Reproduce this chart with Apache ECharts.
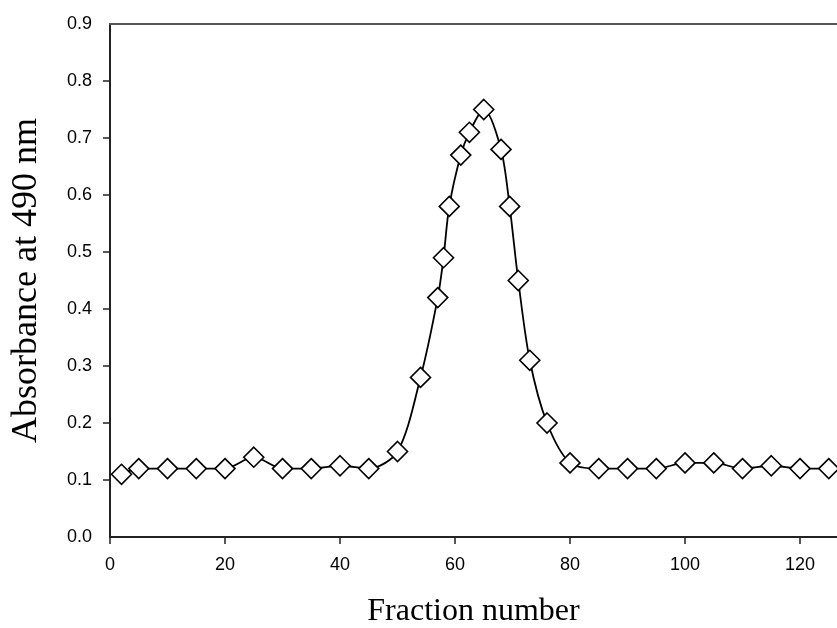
<!DOCTYPE html>
<html>
<head>
<meta charset="utf-8">
<script src="https://cdn.jsdelivr.net/npm/echarts@6/dist/echarts.min.js"></script>
<style>html,body{margin:0;padding:0;background:#fff;overflow:hidden;}#c{width:837px;height:628px;}</style>
</head>
<body>
<div id="c"></div>
<script>
const fractions = [2, 5, 10, 15, 20, 25, 30, 35, 40, 45, 50, 54, 57, 58, 59, 61, 62.5, 65, 68, 69.5, 71, 73, 76, 80, 85, 90, 95, 100, 105, 110, 115, 120, 125];
const absorbance = [0.11, 0.12, 0.12, 0.12, 0.12, 0.14, 0.12, 0.12, 0.125, 0.12, 0.15, 0.28, 0.42, 0.49, 0.58, 0.67, 0.71, 0.75, 0.68, 0.58, 0.45, 0.31, 0.20, 0.13, 0.12, 0.12, 0.12, 0.13, 0.13, 0.12, 0.125, 0.12, 0.12];
const yTickValues = [0.1, 0.2, 0.3, 0.4, 0.5, 0.6, 0.7, 0.8];
const xTitle = 'Fraction number';
const yTitle = 'Absorbance at 490 nm';

const chart = echarts.init(document.getElementById('c'));
chart.setOption({
  animation: false,
  backgroundColor: '#fff',
  grid: { left: 110, top: 24, bottom: 91, right: 0, outerBoundsMode: 'none', containLabel: false },
  xAxis: [{
    type: 'value', min: 0, max: 126.43, interval: 20,
    name: xTitle, nameLocation: 'middle', nameGap: 59,
    nameTextStyle: { fontFamily: 'Liberation Serif', fontSize: 32, color: '#000' },
    axisLine: { show: true, onZero: false, lineStyle: { color: '#222', width: 2 } },
    axisTick: { show: true, inside: false, length: 7, lineStyle: { color: '#222', width: 1.5 } },
    axisLabel: { margin: 19, fontFamily: 'Liberation Sans', fontSize: 18, color: '#000', showMaxLabel: false },
    splitLine: { show: false }
  }, {
    type: 'value', position: 'top', min: 0, max: 126.43,
    axisLine: { show: true, onZero: false, lineStyle: { color: '#555', width: 2 } },
    axisTick: { show: false }, axisLabel: { show: false }, splitLine: { show: false }
  }],
  yAxis: {
    type: 'value', min: 0, max: 0.9, interval: 0.1,
    name: yTitle, nameLocation: 'middle', nameGap: 65, nameRotate: 90,
    nameTextStyle: { fontFamily: 'Liberation Serif', fontSize: 36, color: '#000' },
    axisLine: { show: true, lineStyle: { color: '#222', width: 2 } },
    axisTick: { show: true, inside: false, length: 7, customValues: yTickValues, lineStyle: { color: '#222', width: 1.5 } },
    axisLabel: { margin: 18, fontFamily: 'Liberation Sans', fontSize: 18, color: '#000', formatter: v => v.toFixed(1) },
    splitLine: { show: false }
  },
  series: [{
    type: 'line',
    xAxisIndex: 0,
    data: fractions.map((f, i) => [f, absorbance[i]]),
    smooth: 0.3,
    symbol: 'diamond',
    symbolSize: 20,
    showAllSymbol: true,
    lineStyle: { color: '#000', width: 1.8 },
    itemStyle: { color: '#fff', borderColor: '#000', borderWidth: 1.6 },
    clip: false
  }]
});
</script>
</body>
</html>
